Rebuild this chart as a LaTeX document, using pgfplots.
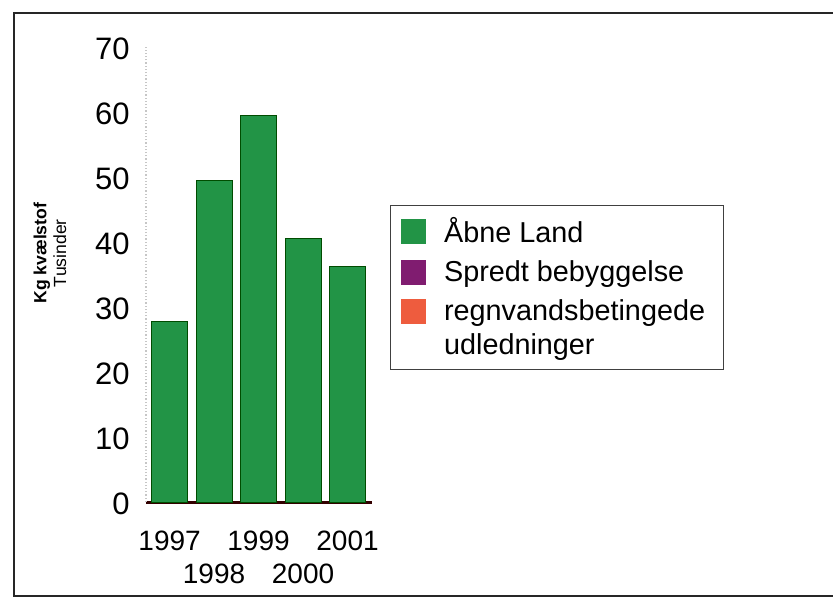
\documentclass[border=0pt]{standalone}
\usepackage{pgfplots}
\pgfplotsset{compat=1.18}
\usepackage{fontspec}
\setmainfont{Liberation Sans}
\definecolor{landgreen}{RGB}{34,148,70}
\definecolor{spredt}{RGB}{128,28,112}
\definecolor{regn}{RGB}{238,92,62}
\pgfplotsset{
  square legend/.style={legend image code/.code={\fill[##1,draw=none] (0pt,-6.25pt) rectangle (12.5pt,6.25pt); \path (17.5pt,0pt);}},
  raised square legend/.style={legend image code/.code={\fill[##1,draw=none] (0pt,2.5pt) rectangle (12.5pt,15pt); \path (17.5pt,0pt);}},
}
\begin{document}
\begin{tikzpicture}
\useasboundingbox (0,0) rectangle (416.5pt,300pt);
\draw[line width=1pt, black!85] (7pt,2pt) rectangle (422pt,293.5pt);
\begin{axis}[
  at={(73pt,49pt)}, anchor=south west,
  scale only axis, width=113pt, height=227.5pt,
  ybar stacked, bar width=18pt,
  xmin=-0.53, xmax=4.55, ymin=0, ymax=70,
  xtick={0,1,2,3,4},
  xticklabels={{\strut 1997},{\strut\\\strut 1998},{\strut 1999},{\strut\\\strut 2000},{\strut 2001}},
  ytick={0,10,...,70},
  /pgf/number format/assume math mode=true,
  axis x line*=bottom, axis y line*=left,
  x axis line style={line width=1.5pt, color=black!80!red, -},
  y axis line style={gray!45, densely dotted, line width=0.6pt, -},
  major tick length=0pt,
  x tick label style={font=\fontsize{14}{16.5}\selectfont, align=center, anchor=north, inner sep=0pt, yshift=-12.4pt},
  y tick label style={font=\fontsize{15.5}{18}\selectfont, anchor=east, inner sep=0pt, xshift=-8pt, yshift=-1pt},
  ylabel={{\bfseries Kg kvælstof}\\Tusinder},
  ylabel style={font=\fontsize{8.8}{9.8}\selectfont, align=center, at={(rel axis cs:-0.425,0.547)}, anchor=center},
  legend cell align=left,
  legend style={at={(rel axis cs:1.0796,0.6527)}, anchor=north west,
    draw=black!75, line width=0.6pt, fill=white,
    font=\fontsize{14.4}{17}\selectfont,
    cells={align=left},
    inner xsep=5pt, inner ysep=5pt, row sep=5.5pt,
    nodes={inner xsep=4pt, inner ysep=1pt}},
  square legend,
]
\addplot[fill=landgreen, draw=black!70!green, line width=0.5pt] coordinates {
  (0,27.7) (1,49.4) (2,59.4) (3,40.6) (4,36.3)
};
\addplot[fill=spredt, draw=none] coordinates {
  (0,0) (1,0) (2,0) (3,0) (4,0)
};
\addplot[fill=regn, draw=none, raised square legend] coordinates {
  (0,0) (1,0) (2,0) (3,0) (4,0)
};
\legend{Åbne Land, Spredt bebyggelse, regnvandsbetingede\\udledninger}
\end{axis}
\end{tikzpicture}
\end{document}
